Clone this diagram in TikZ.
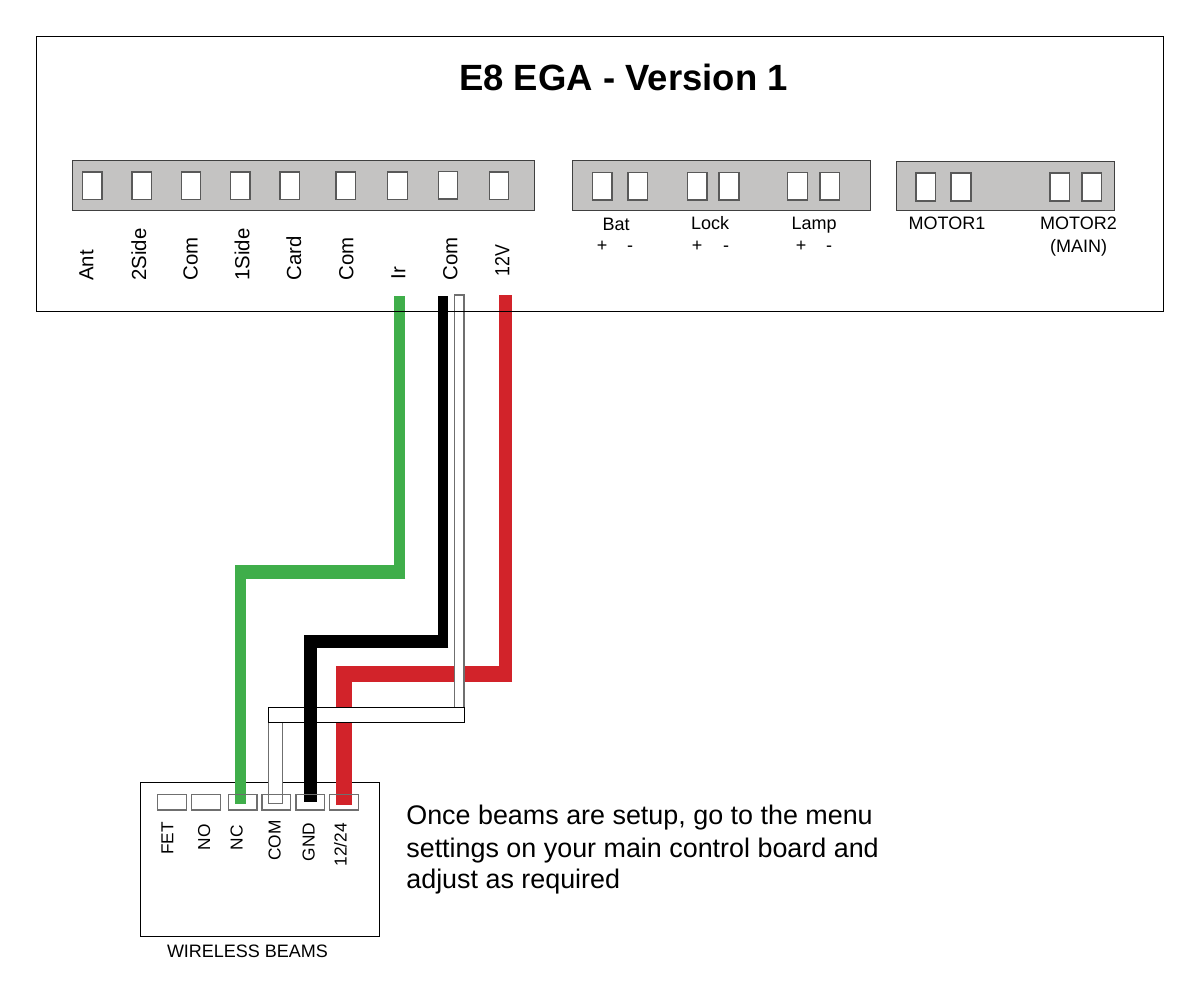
\documentclass[tikz,border=0pt]{standalone}
\usepackage{fontspec}
\usepackage{graphicx}
\setmainfont{Liberation Sans}
\newcommand{\fpx}[1]{\pgfmathsetmacro{\fsz}{#1*0.569}\fontsize{\fsz pt}{\fsz pt}\selectfont}
\definecolor{stripgray}{HTML}{C4C3C2}
\definecolor{wiregreen}{HTML}{3FAE4A}
\definecolor{wirered}{HTML}{D2232A}
\definecolor{framegray}{HTML}{6F6F6F}
\newcommand{\termbox}[6][termbox]{%
  \pgfmathsetmacro{\tw}{(#5-#3)*0.02}\pgfmathsetmacro{\th}{(#6-#4)*0.02}%
  \node[#1,minimum width=\tw cm,minimum height=\th cm] (#2) at ({(#3+#5)/2},{(#4+#6)/2}) {};}
\tikzset{
  x=0.02cm,y=-0.02cm,
  mainbox/.style={draw=black,line width=0.55pt,fill=none,inner sep=0pt,outer sep=0pt},
  strip/.style={draw=black!75,line width=0.55pt,fill=stripgray,inner sep=0pt,outer sep=0pt},
  termbox/.style={draw=black!65,line width=0.6pt,fill=white,inner sep=0pt,outer sep=0pt},
  beamterm/.style={draw=framegray,line width=0.7pt,fill=none,inner sep=0pt,outer sep=0pt},
  whitewire/.style={draw=black,line width=0.55pt,fill=white,inner sep=0pt,outer sep=0pt},
  whitewirelow/.style={draw=framegray,line width=0.8pt,fill=white,inner sep=0pt,outer sep=0pt},
  rotlabel/.style={rotate=90,anchor=base west,inner sep=0pt,font=\fpx{20.4}},
  beamlabel/.style={rotate=90,anchor=base west,inner sep=0pt,font=\fpx{17.3}},
  smalllabel/.style={anchor=base,inner sep=0pt,font=\fpx{18}},
  wire/.style={line cap=butt,line join=miter},
}
\begin{document}
\begin{tikzpicture}
\useasboundingbox[fill=white] (0,0) rectangle (1200,1000);
% strips
\termbox[strip]{stripA}{72.5}{160.5}{534}{210}
\termbox[strip]{stripB}{572.5}{160.5}{870}{210}
\termbox[strip]{stripC}{896}{161}{1114}{210.5}
% terminals
\termbox{a1}{82.7}{172}{102}{199.5}
\termbox{a2}{132}{172}{151.7}{199.5}
\termbox{a3}{181.3}{172}{200.7}{199.5}
\termbox{a4}{230.3}{172}{250}{199.5}
\termbox{a5}{280}{172}{299.3}{199.5}
\termbox{a6}{336}{172}{355.7}{199.5}
\termbox{a7}{387.7}{172}{407.3}{199.5}
\termbox{a8}{438.7}{171.5}{457.7}{199}
\termbox{a9}{489.3}{172}{508.7}{199.5}
\termbox{b1}{592.5}{172.5}{612}{200}
\termbox{b2}{628}{172.5}{647.5}{200}
\termbox{b3}{687.5}{172.5}{707}{200}
\termbox{b4}{719}{172.5}{739}{200}
\termbox{b5}{787.5}{172.5}{807.5}{200}
\termbox{b6}{820}{172.5}{839.5}{200}
\termbox{c1}{916}{173}{935.5}{201}
\termbox{c2}{951}{173}{971}{201}
\termbox{c3}{1050}{173}{1069.5}{201}
\termbox{c4}{1082}{173}{1101.5}{201}
% title
\node[anchor=base,inner sep=0pt,font=\fpx{36.5}\bfseries] (title) at (623.5,90.5) {E8 EGA - Version 1};
% top labels
\node[rotlabel] (lAnt) at (93.3,281) {Ant};
\node[rotlabel] (l2s) at (146,281) {2Side};
\node[rotlabel] (lCom1) at (197.7,281) {Com};
\node[rotlabel] (l1s) at (249.3,281) {1Side};
\node[rotlabel] (lCard) at (301,281) {Card};
\node[rotlabel] (lCom2) at (353.3,281) {Com};
\node[rotlabel] (lIr) at (405.3,280) {Ir};
\node[rotlabel] (lCom3) at (457.3,281) {Com};
\node[rotlabel] (l12) at (509.3,277) {\scalebox{0.87}[1]{12V}};
% strip B and C labels
\node[smalllabel] (lBat) at (616,231) {Bat};
\node[smalllabel] (lLock) at (710,230) {Lock};
\node[smalllabel] (lLamp) at (814,230) {Lamp};
\node[smalllabel] (bp) at (602,252) {+};
\node[smalllabel] (bm) at (630,252) {-};
\node[smalllabel] (kp) at (697,252) {+};
\node[smalllabel] (km) at (726,252) {-};
\node[smalllabel] (mp) at (801,252) {+};
\node[smalllabel] (mm) at (829,252) {-};
\node[smalllabel] (lM1) at (947,230) {MOTOR1};
\node[smalllabel] (lM2) at (1078.5,230) {MOTOR2};
\node[smalllabel] (lMain) at (1078.5,253) {(MAIN)};
% beams box
\termbox[mainbox]{beams}{140.3}{782.3}{379.3}{936.3}
% wire way-points
\coordinate (irTop) at (399.8,296);
\coordinate (irBend) at (399.8,579);
\coordinate (irR) at (405.3,572);
\coordinate (ncL) at (235.3,572);
\coordinate (ncBend) at (240.7,565);
\coordinate (ncEnd) at (240.7,804.3);
\coordinate (comTop) at (443.3,296);
\coordinate (comBend) at (443.3,647.7);
\coordinate (comR) at (448.3,641.4);
\coordinate (gndL) at (304,641.4);
\coordinate (gndBend) at (310.7,635);
\coordinate (gndEnd) at (310.7,802);
\coordinate (vTop) at (505.5,295);
\coordinate (vBend) at (505.5,681.7);
\coordinate (vR) at (512,673.9);
\coordinate (pwrL) at (336,673.9);
\coordinate (pwrBend) at (344,666);
\coordinate (pwrEnd) at (344,805);
% wires
\begin{scope}[wire,wirered]
\draw[line width=7.4pt] (vTop) -- (vBend);
\draw[line width=8.9pt] (vR) -- (pwrL);
\draw[line width=9.1pt] (pwrBend) -- (pwrEnd);
\end{scope}
\termbox[whitewirelow]{wUp}{454.3}{295}{464}{707.3}
\termbox[whitewirelow]{wLow}{268.7}{722.3}{282.3}{803.7}
\termbox[whitewire]{wMid}{268.7}{707.3}{464}{722.3}
\begin{scope}[wire,black]
\draw[line width=5.7pt] (comTop) -- (comBend);
\draw[line width=7.2pt] (comR) -- (gndL);
\draw[line width=7.6pt] (gndBend) -- (gndEnd);
\end{scope}
\begin{scope}[wire,wiregreen]
\draw[line width=6.2pt] (irTop) -- (irBend);
\draw[line width=8pt] (irR) -- (ncL);
\draw[line width=6.1pt] (ncBend) -- (ncEnd);
\end{scope}
% main frame over wires
\termbox[mainbox]{main}{36.5}{36.5}{1163.3}{311}
% beam terminals
\termbox[beamterm]{t1}{157.3}{794.3}{186.7}{810}
\termbox[beamterm]{t2}{191.7}{794.3}{220.7}{810}
\termbox[beamterm]{t3}{228.3}{794.3}{257}{810}
\termbox[beamterm]{t4}{262}{794.3}{290.7}{810}
\termbox[beamterm]{t5}{296}{794.3}{324.7}{810}
\termbox[beamterm]{t6}{329.7}{794.3}{358.7}{810}
% beam labels
\node[beamlabel] (lFet) at (173.3,855) {FET};
\node[beamlabel] (lNo) at (210,850.7) {NO};
\node[beamlabel] (lNc) at (242.7,850.7) {NC};
\node[beamlabel] (lCOM) at (280.7,861) {COM};
\node[beamlabel] (lGnd) at (314.7,861.7) {GND};
\node[beamlabel] (lPwr) at (346.7,866.7) {12/24};
\node[smalllabel] (lWb) at (247.5,957) {WIRELESS BEAMS};
% note
\node[anchor=base west,inner sep=0pt,font=\fpx{26.9}] (n1) at (406,824) {Once beams are setup, go to the menu};
\node[anchor=base west,inner sep=0pt,font=\fpx{26.9}] (n2) at (406,857) {settings on your main control board and};
\node[anchor=base west,inner sep=0pt,font=\fpx{26.9}] (n3) at (406,888) {adjust as required};
\end{tikzpicture}
\end{document}
